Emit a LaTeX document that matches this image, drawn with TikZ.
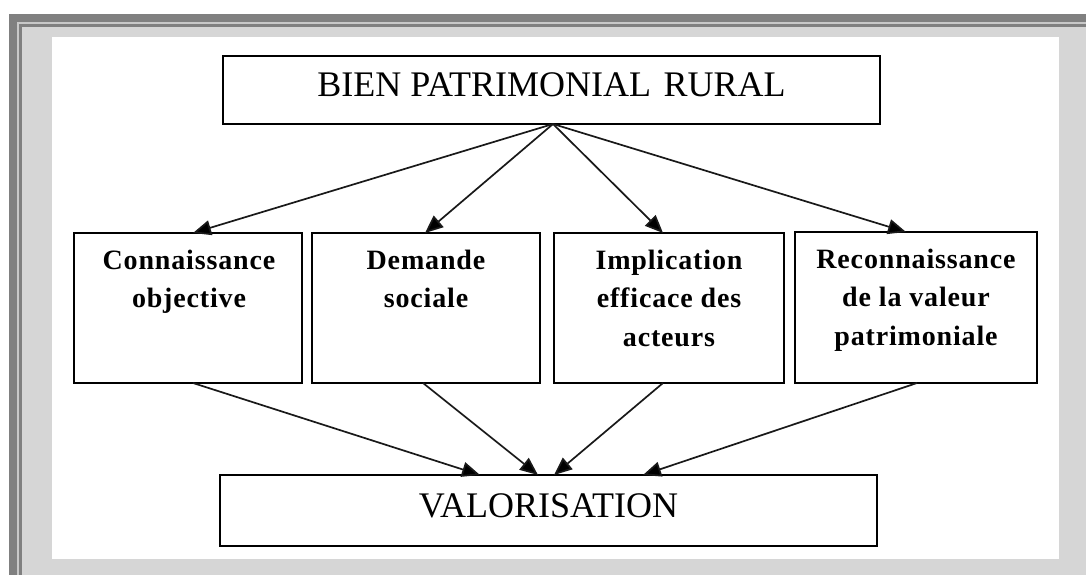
\documentclass[tikz,border=0pt]{standalone}
\usepackage{fontspec}
\setmainfont{Liberation Serif}
\newfontfamily\midfont[LetterSpace=3]{Liberation Serif}
\usetikzlibrary{arrows.meta,calc}
\definecolor{frameDark}{HTML}{808080}
\definecolor{frameLight}{HTML}{D6D6D6}
\definecolor{frameLine}{HTML}{C8C8C8}
\newcommand\stacklines[1]{\vtop{\halign{\hfil##\hfil\cr#1\crcr}}}
\begin{document}
\begin{tikzpicture}[x=1pt,y=-1pt,
  box/.style={draw=black,line width=1.6pt,rectangle,inner sep=0pt,outer sep=0pt,anchor=north west},
  bigtext/.style={inner sep=0pt,anchor=base,font=\fontsize{36}{40}\selectfont},
  midtext/.style={inner sep=0pt,anchor=base,font=\midfont\bfseries\fontsize{28}{38.5}\selectfont},
  arr/.style={draw=black!90,line width=1.7pt,-{Triangle[length=18pt,width=15pt,fill=black]}}]
\useasboundingbox (0,0) rectangle (1086,575);
% frame
\fill[white] (0,0) rectangle (1086,575);
\fill[frameDark] (9,14) rectangle (1086,575);
\fill[frameLine] (17,22) rectangle (1086,575);
\fill[frameDark] (19,24) rectangle (1086,575);
\fill[frameLight] (22,27) rectangle (1086,575);
\fill[white] (52,37) rectangle (1059,559);
% boxes
\node[box,minimum width=657pt,minimum height=68pt] (top) at (223,56) {};
\node[box,minimum width=228pt,minimum height=150pt] (b1) at (74,233) {};
\node[box,minimum width=228pt,minimum height=150pt] (b2) at (312,233) {};
\node[box,minimum width=230pt,minimum height=150pt] (b3) at (554,233) {};
\node[box,minimum width=242pt,minimum height=151pt] (b4) at (795,232) {};
\node[box,minimum width=657pt,minimum height=71pt] (val) at (220,475) {};
% texts
\node[bigtext] (ttop) at ($(top.north)+(0,41)$) {BIEN PATRIMONIAL\hspace{0.35em}RURAL};
\node[bigtext] (tval) at ($(val.north)+(0,42)$) {VALORISATION};
\node[midtext] (t1) at ($(b1.north)+(1,36)$) {\stacklines{Connaissance\cr objective}};
\node[midtext] (t2) at ($(b2.north)+(0,36)$) {\stacklines{Demande\cr sociale}};
\node[midtext] (t3) at ($(b3.north)+(0,36)$) {\stacklines{Implication\cr efficace des\cr acteurs}};
\node[midtext] (t4) at ($(b4.north)+(0,36)$) {\stacklines{Reconnaissance\cr de la valeur\cr patrimoniale}};
% connectors
\coordinate (hub) at ([xshift=1.5pt]top.south);
\draw[arr] (hub) -- ([xshift=5pt]b1.north);
\draw[arr] (hub) -- ([xshift=-1pt]b2.north);
\draw[arr] (hub) -- ([xshift=-6pt]b3.north);
\draw[arr] (hub) -- ([xshift=-10pt]b4.north);
\draw[arr] ([xshift=5pt]b1.south) -- ([xshift=-68.5pt]val.north);
\draw[arr] ([xshift=-3pt]b2.south) -- ([xshift=-10.5pt]val.north);
\draw[arr] ([xshift=-6pt]b3.south) -- ([xshift=5.5pt]val.north);
\draw[arr] ([xshift=1pt]b4.south) -- ([xshift=94.5pt]val.north);
\end{tikzpicture}
\end{document}
